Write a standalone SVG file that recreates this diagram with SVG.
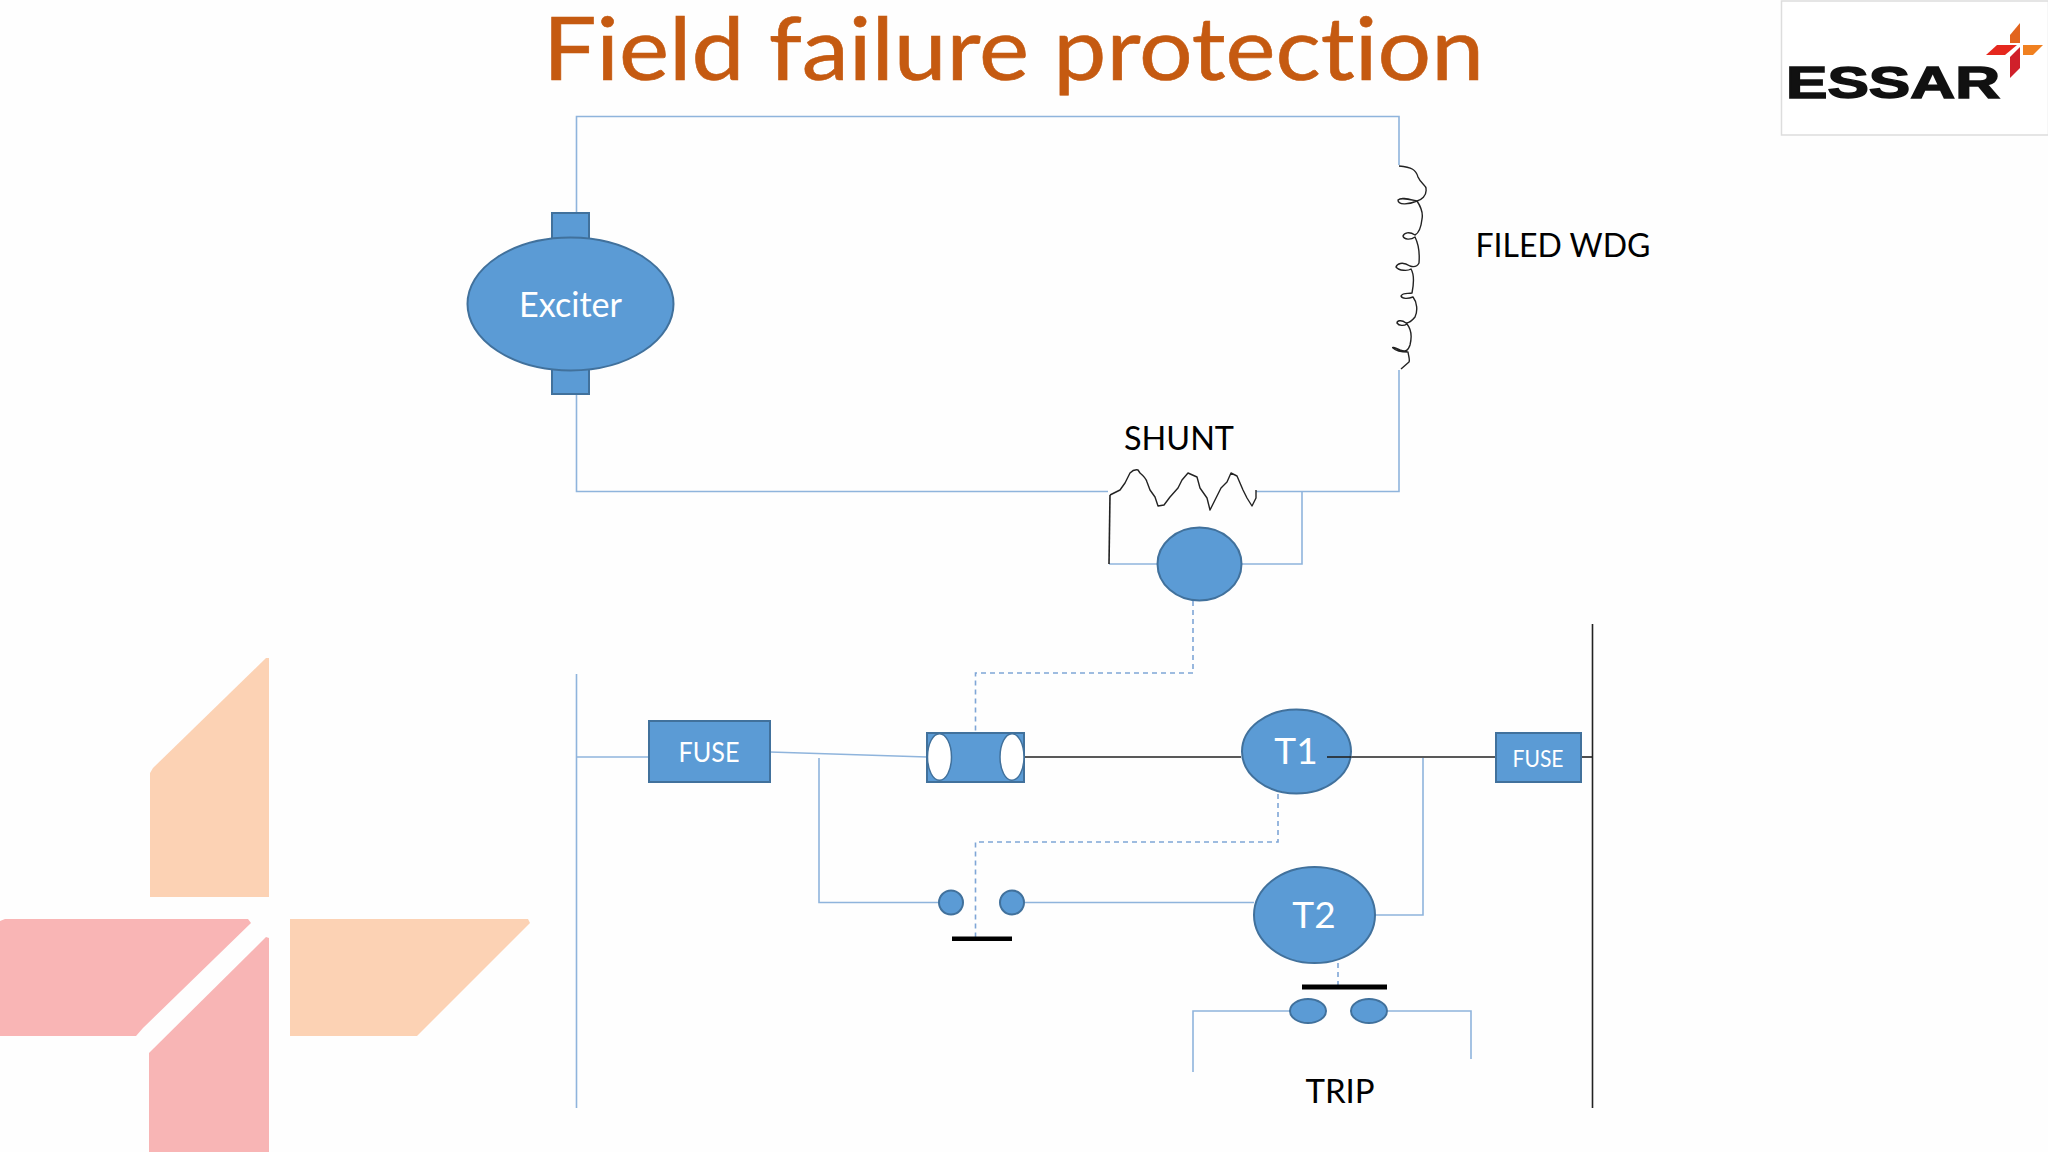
<svg xmlns="http://www.w3.org/2000/svg" width="2048" height="1152" viewBox="0 0 2048 1152">
<style>
text{font-family:Lato,"Open Sans",sans-serif;font-variant-ligatures:none}
.sh{fill:#5B9BD5;stroke:#41719C;stroke-width:2}
.w{fill:none;stroke:#8FB4DC;stroke-width:1.6}
.k{fill:none;stroke:#222;stroke-width:1.6}
.d{fill:none;stroke:#7FA6D6;stroke-width:1.6;stroke-dasharray:5 4}
.hand{fill:none;stroke:#222;stroke-width:1.4;stroke-linejoin:round}
.wl{fill:#fff;text-anchor:middle}
.bl{fill:#000;text-anchor:middle}
.bar{fill:#000}
</style>
<rect width="2048" height="1152" fill="#FEFEFE"/>
<g id="watermark">
<polygon points="266,658 269,658 269,897 150,897 150,773 153,768" fill="#FCD2B4"/>
<polygon points="290,919 528,919 530,923 417,1036 290,1036" fill="#FCD2B4"/>
<polygon points="0,921 5,919 248,919 251,923 143,1028 136,1036 0,1036" fill="#F9B5B5"/>
<polygon points="266,937 269,938 269,1152 149,1152 149,1053" fill="#F8B5B5"/>
</g>
<text id="title" x="1013.500" y="80" font-size="88" text-anchor="middle" fill="#C55A11" stroke="#C55A11" stroke-width="0.600" textLength="941" lengthAdjust="spacingAndGlyphs">Field failure protection</text>
<g id="logo">
<rect x="1781.500" y="1" width="267" height="134" fill="#fff" stroke="#DDD" stroke-width="1.500"/>
<text x="1786" y="98" font-size="45" font-weight="bold" style="font-family:'Liberation Sans',sans-serif" fill="#111" stroke="#111" stroke-width="1.500" textLength="214" lengthAdjust="spacingAndGlyphs">ESSAR</text>
<polygon points="2020,23 2010,35 2010,43 2020,43" fill="#E2641E"/>
<polygon points="2023,45 2043,45 2033,55 2023,55" fill="#F08020"/>
<polygon points="1997,45 2017,45 2005,55 1986,55" fill="#E5281E"/>
<polygon points="2020,47 2020,68 2010,78 2010,57" fill="#D0202A"/>
</g>
<g id="connectors">
<path class="w" d="M576.500,212V116.500H1399V165"/>
<path class="w" d="M576.500,394V491.500H1108"/>
<path class="w" d="M1399,370V491.500H1256"/>
<path class="w" d="M1109,564H1160"/>
<path class="w" d="M1238,564H1302V491"/>
<path class="k" d="M1110,495L1109,564"/>
<path class="w" d="M576.500,674V1108"/>
<path class="k" d="M1592.500,624V1108"/>
<path class="w" d="M576,757H649"/>
<path class="w" d="M770,752L927,757"/>
<path class="k" d="M1024,757H1241"/>
<path class="k" d="M1327,757H1495"/>
<path class="k" d="M1580,757H1592"/>
<path class="w" d="M819,758V902.500H939"/>
<path class="w" d="M1025,902.500H1254"/>
<path class="w" d="M1375,915H1423V758"/>
<path class="w" d="M1290,1011H1193V1072"/>
<path class="w" d="M1388,1011H1471V1059"/>
<path class="d" d="M1193,601V673H975.500V733"/>
<path class="d" d="M1278,794V842H975.500V938"/>
<path class="d" d="M1338,963V986"/>
</g>
<g id="exciter">
<rect class="sh" x="552" y="213" width="37" height="26"/>
<rect class="sh" x="552" y="368" width="37" height="26"/>
<ellipse class="sh" cx="570.500" cy="304" rx="103" ry="66.500"/>
<text class="wl" x="570.500" y="317" font-size="34" textLength="103" lengthAdjust="spacingAndGlyphs">Exciter</text>
</g>
<g id="field-winding">
<path class="hand" d="M1399,166C1412,167 1416,170 1418,177C1421,184 1427,186 1426,189C1427,196 1421,200 1417,201C1408,199 1401,197 1398,200C1398,205 1408,205 1417,201C1421,207 1423,214 1422,219C1421,228 1419,233 1415,235C1409,231 1404,233 1403,236C1404,240 1411,240 1415,237C1418,243 1420,250 1419,263C1417,267 1413,267 1410,266C1402,261 1397,264 1396,267C1399,271 1408,271 1411,269C1414,274 1414,283 1412,293C1408,294 1403,292 1401,296C1402,299 1408,299 1413,297C1417,302 1418,311 1415,317C1411,322 1407,323 1406,323C1401,319 1397,321 1397,323C1399,326 1404,326 1407,324C1411,329 1412,337 1410,345C1408,351 1406,352 1400,350C1393,347 1392,347 1393,348C1397,352 1403,352 1408,352C1409,358 1410,360 1409,362L1401,369"/>
</g>
<g id="shunt">
<path class="hand" d="M1110,495L1120,490L1125,483L1130,473Q1134,469 1138,470L1140,473Q1146,478 1147,482L1150,490L1155,497L1158,506L1164,505L1170,497L1178,488L1182,480L1188,473L1197,477L1200,488L1207,498L1210,510L1215,500L1221,488L1227,482L1231,473L1237,476L1243,490L1247,498L1252,506L1256,498V490"/>
<text class="bl" x="1179" y="450" font-size="33" textLength="110" lengthAdjust="spacingAndGlyphs">SHUNT</text>
</g>
<g id="meter"><ellipse class="sh" cx="1199.500" cy="564" rx="42" ry="36.500"/></g>
<g id="fuse-left">
<rect class="sh" x="649" y="721" width="121" height="61"/>
<text class="wl" x="709" y="762" font-size="27" textLength="61" lengthAdjust="spacingAndGlyphs">FUSE</text>
</g>
<g id="cylinder">
<rect class="sh" x="927" y="733" width="97" height="49"/>
<ellipse cx="939.500" cy="757" rx="12" ry="23.300" fill="#fff" stroke="#41719C" stroke-width="1.500"/>
<ellipse cx="1012" cy="757" rx="12" ry="23.300" fill="#fff" stroke="#41719C" stroke-width="1.500"/>
</g>
<g id="t1">
<ellipse class="sh" cx="1296.500" cy="751.500" rx="54.500" ry="42"/>
<text class="wl" x="1296" y="764" font-size="37">T1</text>
<path class="k" d="M1327,757H1351"/>
</g>
<g id="fuse-right">
<rect class="sh" x="1496" y="733" width="85" height="49"/>
<text class="wl" x="1538" y="767" font-size="24" textLength="51" lengthAdjust="spacingAndGlyphs">FUSE</text>
</g>
<g id="contact-1">
<circle class="sh" cx="951" cy="902.500" r="12"/>
<circle class="sh" cx="1012" cy="902.500" r="12"/>
<rect class="bar" x="952" y="936.500" width="60" height="4.500"/>
</g>
<g id="t2">
<ellipse class="sh" cx="1314.500" cy="915" rx="60.500" ry="48"/>
<text class="wl" x="1314" y="928" font-size="37">T2</text>
</g>
<g id="contact-2">
<rect class="bar" x="1302" y="984.500" width="85" height="5"/>
<ellipse class="sh" cx="1308" cy="1011" rx="18" ry="12"/>
<ellipse class="sh" cx="1369" cy="1011" rx="18" ry="12"/>
</g>
<text id="trip" class="bl" x="1340" y="1103" font-size="33">TRIP</text>
<text id="filed-wdg" class="bl" x="1563" y="257" font-size="33" textLength="175" lengthAdjust="spacingAndGlyphs">FILED WDG</text>
</svg>
